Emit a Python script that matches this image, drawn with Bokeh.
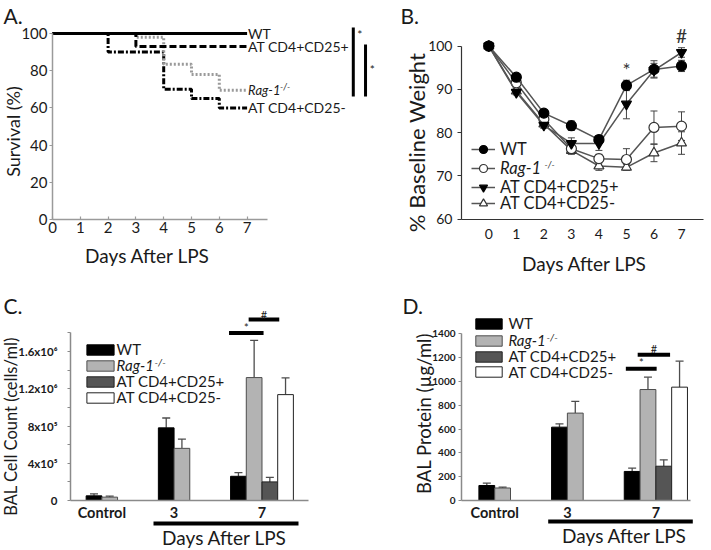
import math
from bokeh.plotting import figure
from bokeh.models import (Range1d, LinearAxis, FixedTicker, Legend, LegendItem,
                          Label, Whisker, ColumnDataSource, TeeHead)
from bokeh.layouts import row, column
from bokeh.embed import file_html
from bokeh.resources import INLINE
from bokeh.core.properties import value

FONT = "Lato"
INK = "#1a1a1a"

# ====================== DATA ======================
# A. Survival (%) – step curves (event day, survival after event)
a_days = [0, 1, 2, 3, 4, 5, 6, 7]
a_ticks = [0, 20, 40, 60, 80, 100]
a_wt_t = [0, 7]
a_wt_s = [100, 100]
a_pos_t = [0, 3, 7]
a_pos_s = [100, 93, 93]
a_rag_t = [0, 3, 4, 5, 6, 7]
a_rag_s = [100, 98, 83.5, 78, 69.5, 69.5]
a_neg_t = [0, 2, 4, 5, 6, 7]
a_neg_s = [100, 90, 70, 65, 60, 60]
a_sig_x = [10.82, 11.26]
a_sig_top = [103.2, 94.1]
a_sig_bot = [66.1, 66.1]
a_star_x = [11.05, 11.5]
a_star_y = [99.5, 80.5]

# B. % baseline weight (mean, SEM)
b_days = [0, 1, 2, 3, 4, 5, 6, 7]
b_ticks = [60, 70, 80, 90, 100]
b_wt = [100, 92.8, 84.5, 81.6, 78.4, 90.9, 94.6, 95.4]
b_wt_e = [0, 0.6, 0.6, 1.1, 0.9, 1.2, 2.0, 1.3]
b_rag = [100, 91.5, 83.1, 76.3, 74.0, 73.8, 81.2, 81.5]
b_rag_e = [0, 0.6, 0.6, 0.8, 1.0, 2.5, 3.8, 3.3]
b_pos = [100, 89.3, 81.7, 77.5, 77.5, 86.6, 94.4, 98.5]
b_pos_e = [0, 0.6, 0.7, 1.3, 1.6, 3.4, 1.6, 1.1]
b_neg = [100, 89.6, 82.0, 75.9, 72.3, 72.0, 75.3, 77.6]
b_neg_e = [0, 0.6, 0.7, 0.9, 1.0, 0.7, 2.0, 2.6]
b_mark_x = [5, 7]
b_mark_y = [94.6, 102.5]
b_mark_t = ["*", "#"]

# C / D. bars by group
groups = ["Control", "3", "7"]
series = ["WT", "Rag-1", "AT CD4+CD25+", "AT CD4+CD25-"]
c_wt = [5.0e4, 7.8e5, 2.6e5]
c_wt_e = [2.2e4, 1.06e5, 4.0e4]
c_rag = [3.6e4, 5.6e5, 1.32e6]
c_rag_e = [1.1e4, 1.0e5, 4.0e5]
c_pos = [None, None, 2.0e5]
c_pos_e = [None, None, 4.8e4]
c_neg = [None, None, 1.137e6]
c_neg_e = [None, None, 1.79e5]
c_ticks = [0, 400000, 800000, 1200000, 1600000]
c_tick_labels = ["0", "4x10\u2075", "8x10\u2075", "1.2x10\u2076", "1.6x10\u2076"]
c_minor = [200000, 600000, 1000000, 1400000, 1800000]
c_sig_x0 = [8.6, 9.85]
c_sig_x1 = [10.8, 11.8]
c_sig_y = [1.80e6, 1.944e6]
c_sig_t = ["*", "#"]

d_wt = [126, 616, 244]
d_wt_e = [20, 28, 28]
d_rag = [105, 734, 932]
d_rag_e = [8, 98, 104]
d_pos = [None, None, 288]
d_pos_e = [None, None, 54]
d_neg = [None, None, 952]
d_neg_e = [None, None, 218]
d_ticks = [0, 200, 400, 600, 800, 1000, 1200, 1400]
d_sig_x0 = [8.8, 9.55]
d_sig_x1 = [10.75, 11.6]
d_sig_y = [1106, 1224]
d_sig_t = ["*", "#"]

# ====================== LAYOUT (page pixels) ======================
GROUP_OFFSETS = [0.0, 4.6, 9.2]   # first bar slot of each group (bar widths)


class Mapper:
    """page-pixel <-> data mapping for one panel (layout only)"""
    def __init__(self, left, top, w, h, x0px, sx, y0px, y0val, sy):
        self.left, self.top, self.w, self.h = left, top, w, h
        self.x0px, self.sx, self.y0px, self.y0val, self.sy = x0px, sx, y0px, y0val, sy

    def x(self, px):
        return (px - self.x0px) / self.sx

    def y(self, py):
        return self.y0val + (self.y0px - py) / self.sy

    def xr(self):
        return (self.x(self.left), self.x(self.left + self.w))

    def yr(self):
        return (self.y(self.top + self.h), self.y(self.top))

    def lx(self, px):  # legend x from figure left
        return px - self.left

    def ly(self, py):  # legend y from figure bottom
        return self.top + self.h - py


ROW1 = 277
ROW2 = 272
MA = Mapper(0, 0, 380, ROW1, 52.0, 27.8, 219.0, 0, 1.86)
MB = Mapper(380, 0, 330, ROW1, 488.3, 27.53, 218.8, 60, 4.3325)
MC = Mapper(0, ROW1, 355, ROW2, 93.5, 15.7, 500.0, 0, 93.125e-6)
MD = Mapper(355, ROW1, 355, ROW2, 486.3, 15.8, 500.0, 0, 0.119071)


def make_fig(m):
    p = figure(width=m.w, height=m.h, x_range=Range1d(*m.xr()), y_range=Range1d(*m.yr()),
               output_backend="svg", toolbar_location=None,
               x_axis_location=None, y_axis_location=None,
               min_border_left=0, min_border_right=0, min_border_top=0, min_border_bottom=0)
    p.grid.visible = False
    p.outline_line_color = None
    p.background_fill_color = "white"
    return p


def make_axis(ticks, loc, bounds, labels=None, minor=None, color="#9a9a9a", width=1.5,
              tick_in=0, tick_out=3, minor_out=0, size="15px", bold=False, standoff=3):
    ax = LinearAxis(ticker=FixedTicker(ticks=ticks, minor_ticks=minor or []),
                    fixed_location=loc, bounds=bounds)
    if labels is not None:
        ax.major_label_overrides = {k: v for k, v in zip(ticks, labels)}
    ax.axis_line_color = color
    ax.axis_line_width = width
    ax.major_tick_line_color = color
    ax.major_tick_line_width = 1.2
    ax.major_tick_in = tick_in
    ax.major_tick_out = tick_out
    ax.minor_tick_line_color = color if minor_out else None
    ax.minor_tick_in = 0
    ax.minor_tick_out = minor_out
    ax.major_label_text_font = FONT
    ax.major_label_text_font_size = size
    ax.major_label_text_color = INK
    ax.major_label_text_font_style = "bold" if bold else "normal"
    ax.major_label_standoff = standoff
    return ax


def title_label(p, m, px, py, text, size, vertical=False):
    p.add_layout(Label(x=m.x(px), y=m.y(py), text=text, text_font=FONT, text_font_size=size,
                       text_align="center", text_baseline="middle", text_color=INK,
                       angle=math.pi / 2 if vertical else 0))


def panel_letter(p, m, px, py, text):
    p.add_layout(Label(x=m.x(px), y=m.y(py), text=text, text_font=FONT, text_font_size="21px",
                       text_align="left", text_baseline="top", text_color=INK))


def sup_label(p, m, px, py, size):
    p.add_layout(Label(x=m.x(px), y=m.y(py), text="-/-", text_font=FONT, text_font_size=size,
                       text_font_style="italic", text_baseline="middle", text_align="left",
                       text_color=INK))


def one_legend(p, renderers, label, x, y, size, gw, gh, standoff, italic=False):
    lg = Legend(items=[LegendItem(label=value(label), renderers=renderers)],
                location=(x, y), orientation="vertical", padding=0, margin=0, spacing=0,
                border_line_color=None, background_fill_alpha=0,
                glyph_width=gw, glyph_height=gh, label_height=gh, label_width=10,
                label_standoff=standoff, label_text_font=FONT, label_text_font_size=size,
                label_text_font_style="italic" if italic else "normal",
                label_text_color=INK)
    p.add_layout(lg)


# ====================== PANEL A ======================
pA = make_fig(MA)
pA.add_layout(make_axis(a_days, 0, (0, 7.75), tick_in=3, tick_out=0, standoff=2), "below")
pA.add_layout(make_axis(a_ticks, 0, (0, 100), tick_out=3, standoff=2), "left")

pA.step(a_neg_t, a_neg_s, mode="after", line_color="black", line_width=3, line_dash="6 2 2 2")
pA.step(a_rag_t, a_rag_s, mode="after", line_color="#9a9a9a", line_width=3, line_dash="2 2")
pA.step(a_pos_t, a_pos_s, mode="after", line_color="black", line_width=3, line_dash="7 3")
pA.step(a_wt_t, a_wt_s, mode="after", line_color="black", line_width=3)

end_x = [a_wt_t[-1], a_pos_t[-1], a_neg_t[-1]]
end_y = [a_wt_s[-1], a_pos_s[-1], a_neg_s[-1]]
pA.text(x=end_x, y=end_y, text=["WT", "AT CD4+CD25+", "AT CD4+CD25-"], x_offset=1,
        text_baseline="middle", text_align="left", text_font=value(FONT),
        text_font_size="14px", text_color=INK)
pA.text(x=[a_rag_t[-1]], y=[a_rag_s[-1]], text=["Rag-1"], x_offset=1,
        text_baseline="middle", text_align="left", text_font=value(FONT),
        text_font_size="13px", text_font_style="italic", text_color=INK)
pA.text(x=[a_rag_t[-1]], y=[a_rag_s[-1]], text=["-/-"], x_offset=33, y_offset=-4,
        text_baseline="middle", text_align="left", text_font=value(FONT),
        text_font_size="9px", text_font_style="italic", text_color=INK)
pA.segment(x0=a_sig_x, y0=a_sig_top, x1=a_sig_x, y1=a_sig_bot, line_color="black", line_width=3)
pA.text(x=a_star_x, y=a_star_y, text=["*", "*"], text_align="center", text_baseline="middle",
        text_font=value(FONT), text_font_size="12px", text_color=INK)
title_label(pA, MA, 147, 255, "Days After LPS", "19px")
title_label(pA, MA, 12, 131, "Survival (%)", "18px", vertical=True)
panel_letter(pA, MA, 3, 2, "A.")

# ====================== PANEL B ======================
pB = make_fig(MB)
bxl = MB.x(461)
pB.add_layout(make_axis(b_days, 60, (bxl, 7.8), color="#333333", width=1.2, tick_out=0,
                        size="14px", standoff=10), "below")
pB.add_layout(make_axis(b_ticks, bxl, (60, 100), color="#333333", width=1.2, tick_out=4,
                        size="14px", standoff=5), "left")

b_specs = [
    (b_neg, b_neg_e, "triangle", "white", 10, "AT CD4+CD25-"),
    (b_rag, b_rag_e, "circle", "white", 10, "Rag-1"),
    (b_pos, b_pos_e, "inverted_triangle", "black", 10, "AT CD4+CD25+"),
    (b_wt, b_wt_e, "circle", "black", 10, "WT"),
]
b_rend = {}
for vals, errs, marker, fill, size, name in b_specs:
    src = ColumnDataSource(dict(x=b_days, y=vals,
                                lo=[v - e for v, e in zip(vals, errs)],
                                hi=[v + e for v, e in zip(vals, errs)]))
    pB.add_layout(Whisker(source=src, base="x", lower="lo", upper="hi", dimension="height",
                          line_color="#444444", line_width=1,
                          upper_head=TeeHead(size=7, line_color="#444444", line_width=1),
                          lower_head=TeeHead(size=7, line_color="#444444", line_width=1)))
    lr = pB.line("x", "y", source=src, line_color="#555555", line_width=1.5)
    sr = pB.scatter("x", "y", source=src, marker=marker, size=size, fill_color=fill,
                    line_color="#333333" if fill == "white" else "black", line_width=1.2)
    b_rend[name] = [lr, sr]
pB.text(x=b_mark_x, y=b_mark_y, text=b_mark_t, text_align="center", text_baseline="middle",
        text_font=value(FONT), text_font_size="19px", text_color="#333333")

b_rows = [149.3, 167.7, 186.7, 202.7]
for i, name in enumerate(["WT", "Rag-1", "AT CD4+CD25+", "AT CD4+CD25-"]):
    one_legend(pB, b_rend[name], name, MB.lx(471), MB.ly(b_rows[i] + 10), "16.5px", 24, 20, 5,
               italic=(i == 1))
sup_label(pB, MB, 544, 164, "9px")
title_label(pB, MB, 584, 263, "Days After LPS", "19px")
title_label(pB, MB, 416, 142, "% Baseline Weight", "22px", vertical=True)
panel_letter(pB, MB, 400, 2, "B.")

# ====================== PANELS C, D ======================
bar_styles = [
    dict(fill_color="black", line_color="black"),
    dict(fill_color="#b3b3b3", line_color="#4d4d4d"),
    dict(fill_color="#555555", line_color="#222222"),
    dict(fill_color="white", line_color="#222222"),
]


def bar_panel(p, vals_list, errs_list):
    rends = []
    for si, (vals, errs, st) in enumerate(zip(vals_list, errs_list, bar_styles)):
        xs = [GROUP_OFFSETS[g] + si for g, v in enumerate(vals) if v is not None]
        tops = [v for v in vals if v is not None]
        es = [e for e in errs if e is not None]
        src = ColumnDataSource(dict(x=xs, top=tops, up=[t + e for t, e in zip(tops, es)]))
        p.add_layout(Whisker(source=src, base="x", lower="top", upper="up", dimension="height",
                             line_color="#4d4d4d", line_width=1.3,
                             upper_head=TeeHead(size=8, line_color="#4d4d4d", line_width=1.3),
                             lower_head=None))
        r = p.vbar(x="x", top="top", width=1.0, bottom=0, source=src, line_width=1, **st)
        rends.append(r)
    centers = []
    for g in range(len(groups)):
        present = [si for si in range(len(vals_list)) if vals_list[si][g] is not None]
        centers.append(round(GROUP_OFFSETS[g] + sum(present) / len(present), 3))
    return rends, centers


# ---- C ----
pC = make_fig(MC)
cxl = MC.x(70)
c_rends, c_centers = bar_panel(pC, [c_wt, c_rag, c_pos, c_neg], [c_wt_e, c_rag_e, c_pos_e, c_neg_e])
pC.add_layout(make_axis(c_centers, 0, (cxl, MC.x(308)), labels=groups, color="#8a8a8a",
                        tick_out=0, size="14.5px", bold=True, standoff=3), "below")
pC.add_layout(make_axis(c_ticks, cxl, (0, 1.8e6), labels=c_tick_labels, minor=c_minor,
                        color="#8a8a8a", tick_out=3, minor_out=3, size="11.5px", bold=True,
                        standoff=10), "left")
pC.segment(x0=[MC.x(153)], y0=[MC.y(523)], x1=[MC.x(298)], y1=[MC.y(523)],
           line_color="black", line_width=4)
pC.segment(x0=c_sig_x0, y0=c_sig_y, x1=c_sig_x1, y1=c_sig_y, line_color="black", line_width=4)
pC.text(x=[(a + b) / 2 for a, b in zip(c_sig_x0, c_sig_x1)], y=c_sig_y, text=c_sig_t,
        y_offset=-5, text_align="center", text_baseline="middle", text_font=value(FONT),
        text_font_size="11px", text_color=INK)
c_rows = [349, 365, 381, 397]
for i, name in enumerate(series):
    one_legend(pC, [c_rends[i]], name, MC.lx(86 - 3.4), MC.ly(c_rows[i] + 9), "15px", 34, 13, 0,
               italic=(i == 1))
sup_label(pC, MC, 154, 361, "10px")
title_label(pC, MC, 224, 537, "Days After LPS", "19px")
title_label(pC, MC, 10, 426, "BAL Cell Count (cells/ml)", "16.5px", vertical=True)
panel_letter(pC, MC, 3, 292, "C.")

# ---- D ----
pD = make_fig(MD)
dxl = MD.x(461)
d_rends, d_centers = bar_panel(pD, [d_wt, d_rag, d_pos, d_neg], [d_wt_e, d_rag_e, d_pos_e, d_neg_e])
pD.add_layout(make_axis(d_centers, 0, (dxl, MD.x(690)), labels=groups, color="#8a8a8a",
                        tick_out=0, size="14.5px", bold=True, standoff=3), "below")
pD.add_layout(make_axis(d_ticks, dxl, (0, 1400), color="#8a8a8a", tick_out=3, size="10px",
                        bold=True, standoff=3), "left")
pD.segment(x0=[MD.x(547.7)], y0=[MD.y(521)], x1=[MD.x(692.3)], y1=[MD.y(521)],
           line_color="black", line_width=4)
pD.segment(x0=d_sig_x0, y0=d_sig_y, x1=d_sig_x1, y1=d_sig_y, line_color="black", line_width=4)
pD.text(x=[(a + b) / 2 for a, b in zip(d_sig_x0, d_sig_x1)], y=d_sig_y, text=d_sig_t,
        y_offset=-6, text_align="center", text_baseline="middle", text_font=value(FONT),
        text_font_size="11px", text_color=INK)
d_rows = [323.3, 340, 356, 371.7]
for i, name in enumerate(series):
    one_legend(pD, [d_rends[i]], name, MD.lx(475.7 - 3.3), MD.ly(d_rows[i] + 9), "15px", 33, 13, 3,
               italic=(i == 1))
sup_label(pD, MD, 546, 336, "10px")
title_label(pD, MD, 624, 535, "Days After LPS", "19px")
title_label(pD, MD, 423, 413, "BAL Protein (\u00b5g/ml)", "18.5px", vertical=True)
panel_letter(pD, MD, 402, 292, "D.")

layout = column(row(pA, pB), row(pC, pD))
open("out.html", "w").write(file_html(layout, INLINE))
